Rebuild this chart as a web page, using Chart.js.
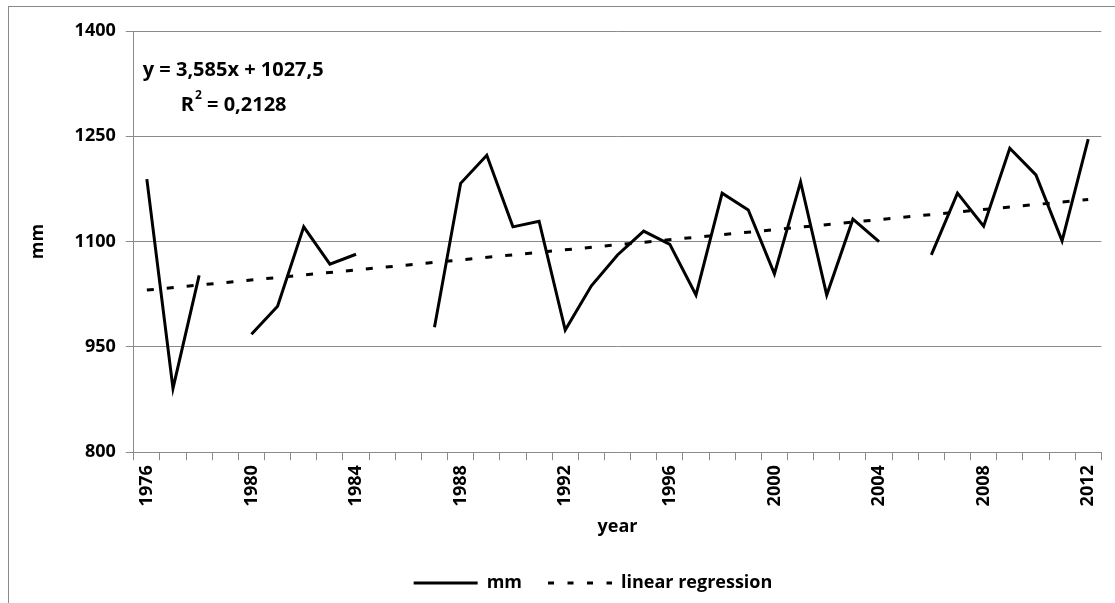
<!DOCTYPE html>
<html>
<head>
<meta charset="utf-8">
<script src="https://cdn.jsdelivr.net/npm/chart.js@4.4.0/dist/chart.umd.min.js"></script>
<style>
  body { margin: 0; background: #fff; overflow: hidden; }
  #frame { position: absolute; left: 8px; top: 6px; width: 1130px; height: 640px; border: 1px solid #8a8a8a; }
  #wrap { position: absolute; left: 0; top: 0; width: 1115px; height: 603px; }
</style>
</head>
<body>
<div id="frame"></div>
<div id="wrap"><canvas id="chart1"></canvas></div>
<script>
// years on the category axis
var years = ['1976', '1977', '1978', '1979', '1980', '1981', '1982', '1983', '1984', '1985',
  '1986', '1987', '1988', '1989', '1990', '1991', '1992', '1993', '1994', '1995',
  '1996', '1997', '1998', '1999', '2000', '2001', '2002', '2003', '2004', '2005',
  '2006', '2007', '2008', '2009', '2010', '2011', '2012']

// precipitation, mm (null = missing year)
var mm = [1189, 891, 1052, null, 968, 1008, 1121, 1068, 1082, null,
  null, 978, 1183, 1223, 1121, 1129, 974, 1037, 1081, 1115,
  1096, 1024, 1169, 1145, 1054, 1185, 1024, 1132, 1100, null,
  1081, 1169, 1122, 1233, 1195, 1101, 1246]

// trend line end values (first and last year)
var trendStart = 1031
var trendEnd = 1160

var yTicks = [800, 950, 1100, 1250, 1400]
var shownYears = ['1976', '1980', '1984', '1988', '1992', '1996', '2000', '2004', '2008', '2012']

var equationText = 'y = 3,585x + 1027,5'
var r2Label = 'R'
var r2Value = ' = 0,2128'

var trend = years.map(function (y, i) {
  if (i === 0) return trendStart
  if (i === years.length - 1) return trendEnd
  return null
})

var fontName = '"Open Sans", "Noto Sans", sans-serif'
var gridGray = '#8a8a8a'

var equationPlugin = {
  id: 'equation',
  afterDatasetsDraw: function (chart) {
    var c = chart.ctx
    var area = chart.chartArea
    c.save()
    c.fillStyle = '#000'
    c.textBaseline = 'middle'
    c.font = 'bold 20px ' + fontName
    c.fillText(equationText, area.left + 9, area.top + 39)
    var x = area.left + 47
    var y = area.top + 74
    c.fillText(r2Label, x, y)
    var w = c.measureText(r2Label).width
    c.font = 'bold 12px ' + fontName
    c.fillText('2', x + w + 1, y - 9)
    var w2 = c.measureText('2').width
    c.font = 'bold 20px ' + fontName
    c.fillText(r2Value, x + w + w2 + 1, y)
    c.restore()
  }
}

// legend in the original is centred a bit right of the canvas middle
var legendShift = {
  id: 'legendShift',
  afterLayout: function (chart) {
    var lg = chart.legend
    if (!lg) return
    lg.left += 37
    lg.right += 37
  }
}

var ctx = document.getElementById('chart1').getContext('2d')
var data = {
  labels: years,
  datasets: [{
    label: 'mm',
    data: mm,
    borderColor: '#000',
    backgroundColor: '#000',
    borderWidth: 3,
    pointRadius: 0,
    spanGaps: false,
    tension: 0
  }, {
    label: 'linear regression',
    data: trend,
    borderColor: '#000',
    backgroundColor: '#000',
    borderWidth: 3,
    borderDash: [7, 13],
    pointRadius: 0,
    spanGaps: true,
    tension: 0
  }]
}

var chart1 = new Chart(ctx, {
  type: 'line',
  data: data,
  plugins: [equationPlugin, legendShift],
  options: {
    responsive: true,
    maintainAspectRatio: false,
    animation: false,
    layout: { padding: { left: 10, right: 13, top: 31, bottom: 1 } },
    plugins: {
      tooltip: { enabled: false },
      legend: {
        position: 'bottom',
        labels: {
          color: '#000',
          font: { family: fontName, size: 18, weight: 'bold' },
          usePointStyle: true,
          pointStyle: 'line',
          pointStyleWidth: 64,
          boxHeight: 17,
          padding: 26,
          generateLabels: function (chart) {
            var items = Chart.defaults.plugins.legend.labels.generateLabels(chart)
            items.forEach(function (it) {
              it.pointStyle = 'line'
              if (it.datasetIndex === 1) it.lineDash = [6, 13.5]
            })
            return items
          }
        }
      }
    },
    scales: {
      x: {
        offset: true,
        grid: { display: true, drawOnChartArea: false, drawTicks: true, tickLength: 8, color: gridGray, offset: true },
        border: { display: true, color: gridGray, width: 1 },
        ticks: {
          autoSkip: false,
          maxRotation: 90,
          minRotation: 90,
          padding: 5,
          color: '#000',
          font: { family: fontName, size: 18, weight: 'bold' },
          callback: function (value) {
            var lab = this.getLabelForValue(value)
            return shownYears.indexOf(lab) >= 0 ? lab : ''
          }
        },
        title: {
          display: true,
          text: 'year',
          color: '#000',
          font: { family: fontName, size: 18, weight: 'bold' },
          padding: { top: 5, bottom: 10 }
        }
      },
      y: {
        min: 800,
        max: 1400,
        afterBuildTicks: function (axis) {
          axis.ticks = yTicks.map(function (v) { return { value: v } })
        },
        grid: { color: gridGray, tickLength: 8, drawTicks: true },
        border: { display: true, color: gridGray, width: 1 },
        ticks: {
          padding: 10,
          color: '#000',
          font: { family: fontName, size: 18, weight: 'bold' },
          callback: function (value) { return String(value) }
        },
        title: {
          display: true,
          text: 'mm',
          color: '#000',
          font: { family: fontName, size: 18, weight: 'bold' },
          padding: { top: 17, bottom: 16 }
        }
      }
    }
  }
})
</script>
</body>
</html>
